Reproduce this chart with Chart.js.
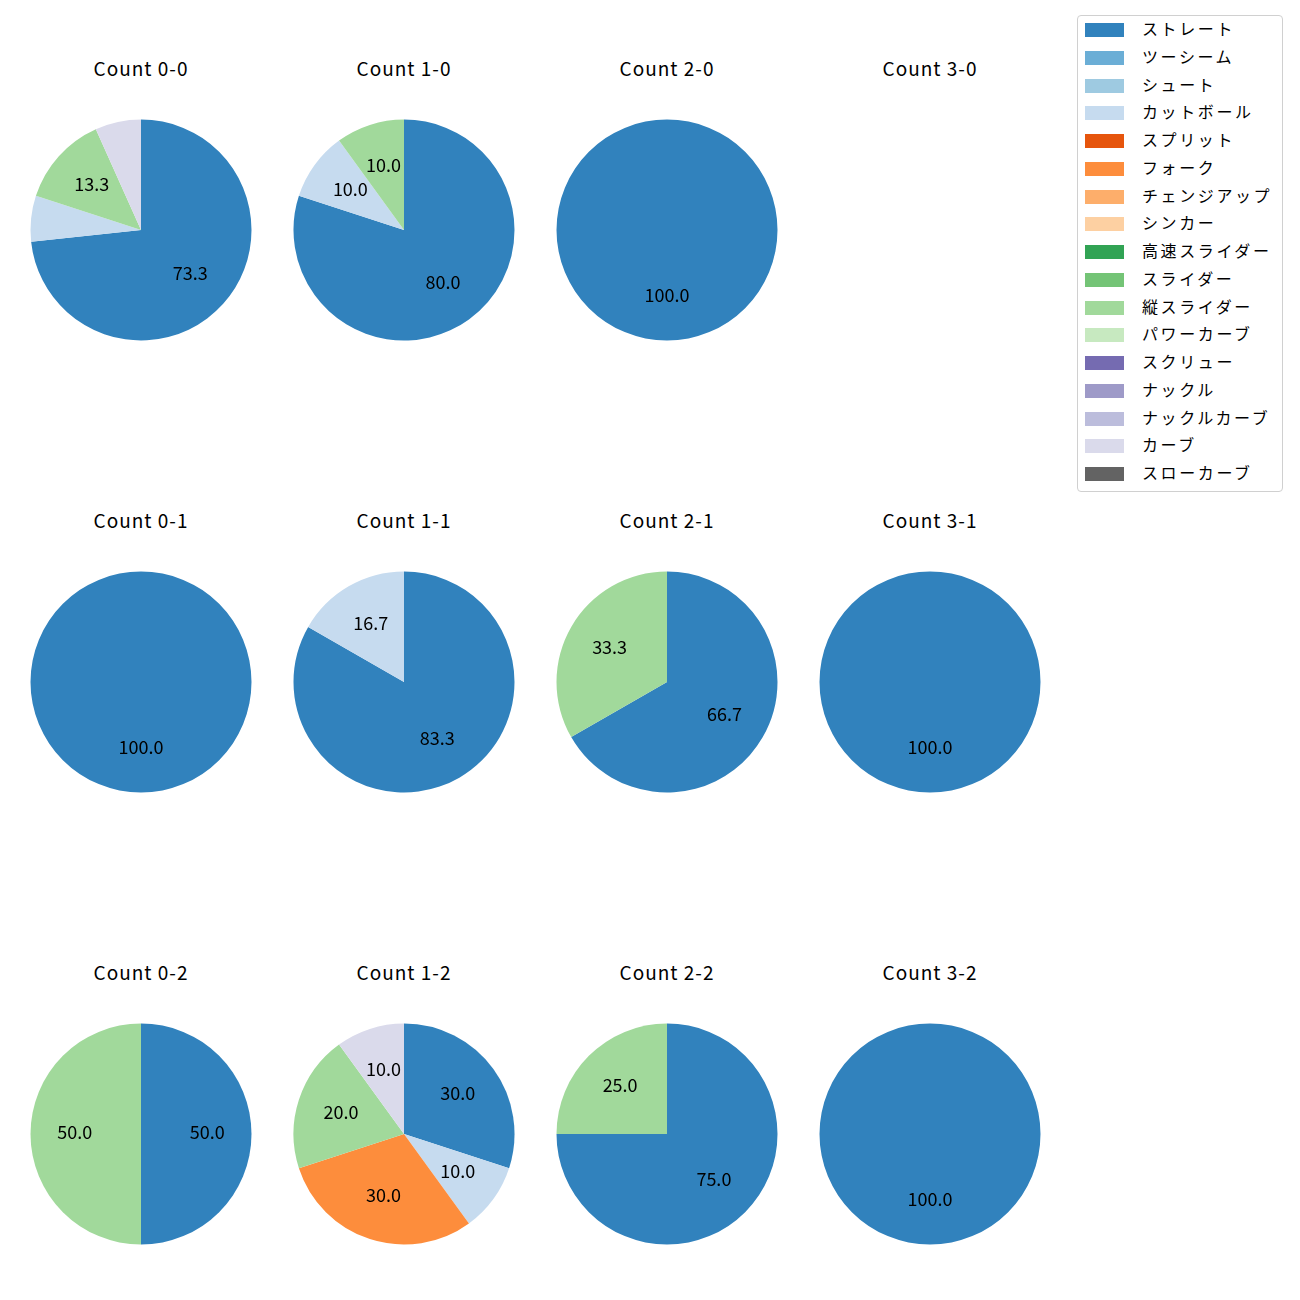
<!DOCTYPE html>
<html>
<head>
<meta charset="utf-8">
<script src="https://cdn.jsdelivr.net/npm/chart.js@4/dist/chart.umd.min.js"></script>
<style>
  body { margin: 0; background: #fff; font-family: "Noto Sans CJK JP", sans-serif; }
  #wrap { position: relative; width: 1300px; height: 1300px; }
  .panel { position: absolute; width: 240px; height: 240px; }
  .title { position: absolute; width: 240px; text-align: center; font-size: 19px; letter-spacing: 1px; color: #000; }
  #legend { position: absolute; left: 1077px; top: 15px; width: 206px; height: 477px; border: 1px solid #d0d0d0; border-radius: 4px; box-sizing: border-box; }
  .row { position: absolute; left: 7px; height: 20px; font-size: 16px; letter-spacing: 2.6px; color: #000; }
  .sw { position: absolute; left: 0; top: 0; width: 39px; height: 14px; }
  .lbl { position: absolute; left: 57px; top: -7px; white-space: nowrap; }
</style>
</head>
<body>
<div id="wrap"></div>
<script>
// panels, in the order they appear: balls-strikes
const counts = ['0-0', '1-0', '2-0', '3-0', '0-1', '1-1', '2-1', '3-1', '0-2', '1-2', '2-2', '3-2'];

const pitchTypes = ['ストレート', 'ツーシーム', 'シュート', 'カットボール', 'スプリット', 'フォーク', 'チェンジアップ', 'シンカー',
  '高速スライダー', 'スライダー', '縦スライダー', 'パワーカーブ', 'スクリュー', 'ナックル', 'ナックルカーブ', 'カーブ', 'スローカーブ'];
const colors = ['#3182bd', '#6baed6', '#9ecae1', '#c6dbef', '#e6550d', '#fd8d3c', '#fdae6b', '#fdd0a2',
  '#31a354', '#74c476', '#a1d99b', '#c7e9c0', '#756bb1', '#9e9ac8', '#bcbddc', '#dadaeb', '#636363'];

// share (%) of each pitch type per count, same order as counts
const straight = [73.3, 80, 100, 0, 100, 83.3, 66.7, 100, 50, 30, 75, 100];
const cutter   = [6.7, 10, 0, 0, 0, 16.7, 0, 0, 0, 10, 0, 0];
const fork     = [0, 0, 0, 0, 0, 0, 0, 0, 0, 30, 0, 0];
const vSlider  = [13.3, 10, 0, 0, 0, 0, 33.3, 0, 50, 20, 25, 0];
const curve    = [6.7, 0, 0, 0, 0, 0, 0, 0, 0, 10, 0, 0];

const seriesByType = { 'ストレート': straight, 'カットボール': cutter, 'フォーク': fork, '縦スライダー': vSlider, 'カーブ': curve };

const colX = [141, 404, 667, 930];
const rowY = [230, 682, 1134];

// percentage text at 0.6 of the radius, small slices left blank
const pctLabels = {
  id: 'pctLabels',
  afterDatasetsDraw(chart) {
    const ctx = chart.ctx;
    const meta = chart.getDatasetMeta(0);
    const data = chart.data.datasets[0].data;
    ctx.save();
    ctx.font = '18px "Noto Sans CJK JP"';
    ctx.fillStyle = '#000';
    ctx.textAlign = 'center';
    ctx.textBaseline = 'middle';
    meta.data.forEach((arc, i) => {
      const v = data[i];
      if (v < 8) return;
      const p = arc.getProps(['x', 'y', 'startAngle', 'endAngle', 'outerRadius'], true);
      const mid = (p.startAngle + p.endAngle) / 2;
      const r = p.outerRadius * 0.6;
      ctx.fillText(v.toFixed(1), p.x + Math.cos(mid) * r, p.y + Math.sin(mid) * r - 1.5);
    });
    ctx.restore();
  }
};

const wrap = document.getElementById('wrap');

counts.forEach((c, k) => {
  const cx = colX[k % 4], cy = rowY[Math.floor(k / 4)];
  const t = document.createElement('div');
  t.className = 'title';
  t.style.left = (cx - 120) + 'px';
  t.style.top = (cy - 176) + 'px';
  t.textContent = 'Count ' + c;
  wrap.appendChild(t);

  const labels = [], values = [], bg = [];
  pitchTypes.forEach((name, j) => {
    const s = seriesByType[name];
    if (s && s[k] > 0) { labels.push(name); values.push(s[k]); bg.push(colors[j]); }
  });
  if (!values.length) return;

  const box = document.createElement('div');
  box.className = 'panel';
  box.style.left = (cx - 120) + 'px';
  box.style.top = (cy - 120) + 'px';
  const cv = document.createElement('canvas');
  cv.width = 240; cv.height = 240;
  box.appendChild(cv);
  wrap.appendChild(box);

  new Chart(cv, {
    type: 'pie',
    data: { labels, datasets: [{ data: values, backgroundColor: bg, borderWidth: 0 }] },
    options: {
      responsive: false, animation: false,
      layout: { padding: 9.5 },
      plugins: { legend: { display: false }, tooltip: { enabled: false } }
    },
    plugins: [pctLabels]
  });
});

// legend
const legend = document.createElement('div');
legend.id = 'legend';
pitchTypes.forEach((name, j) => {
  const row = document.createElement('div');
  row.className = 'row';
  row.style.top = (7 + j * 27.75) + 'px';
  row.innerHTML = '<span class="sw" style="background:' + colors[j] + '"></span><span class="lbl">' + name + '</span>';
  legend.appendChild(row);
});
wrap.appendChild(legend);
</script>
</body>
</html>
